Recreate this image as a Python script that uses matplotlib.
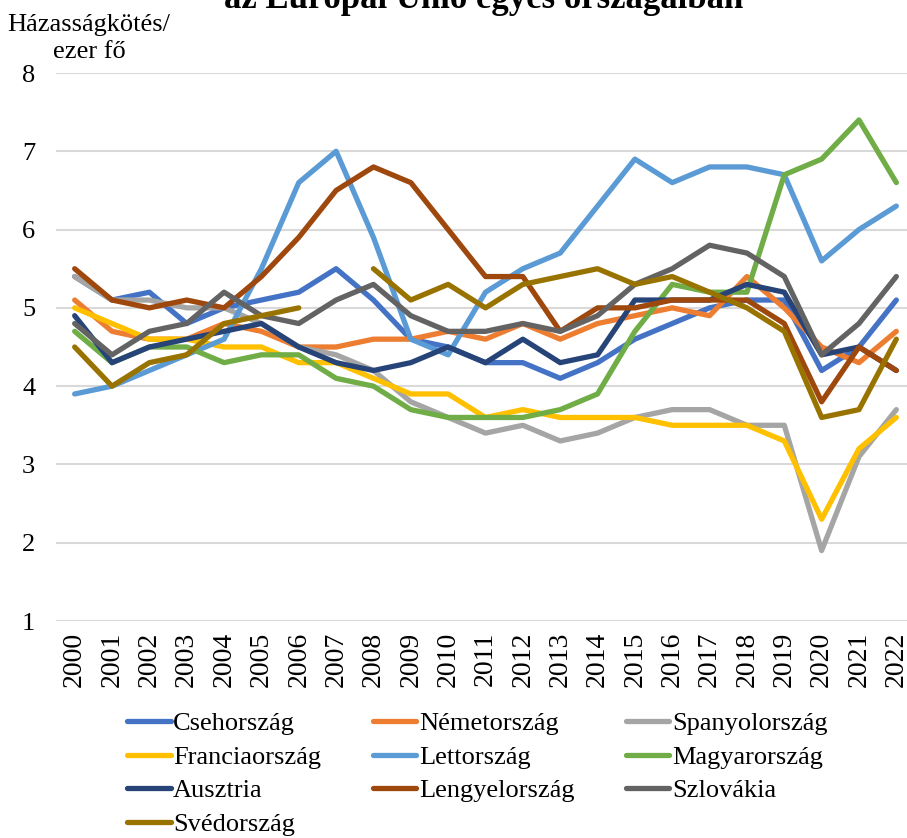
import numpy as np
import matplotlib
matplotlib.use('Agg')
import matplotlib.pyplot as plt

plt.rcParams['font.family'] = ['Liberation Serif', 'DejaVu Serif']

years = [str(y) for y in range(2000, 2023)]

cseh = [5.4, 5.1, 5.2, 4.8, 5.0, 5.1, 5.2, 5.5, 5.1, 4.6, 4.5, 4.3, 4.3, 4.1, 4.3, 4.6, 4.8, 5.0, 5.1, 5.1, 4.2, 4.5, 5.1]
nemet = [5.1, 4.7, 4.6, 4.6, 4.8, 4.7, 4.5, 4.5, 4.6, 4.6, 4.7, 4.6, 4.8, 4.6, 4.8, 4.9, 5.0, 4.9, 5.4, 5.0, 4.5, 4.3, 4.7]
spanyol = [5.4, 5.1, 5.1, 5.0, 5.0, 4.8, 4.5, 4.4, 4.2, 3.8, 3.6, 3.4, 3.5, 3.3, 3.4, 3.6, 3.7, 3.7, 3.5, 3.5, 1.9, 3.1, 3.7]
francia = [5.0, 4.8, 4.6, 4.6, 4.5, 4.5, 4.3, 4.3, 4.1, 3.9, 3.9, 3.6, 3.7, 3.6, 3.6, 3.6, 3.5, 3.5, 3.5, 3.3, 2.3, 3.2, 3.6]
lett = [3.9, 4.0, 4.2, 4.4, 4.6, 5.5, 6.6, 7.0, 5.9, 4.6, 4.4, 5.2, 5.5, 5.7, 6.3, 6.9, 6.6, 6.8, 6.8, 6.7, 5.6, 6.0, 6.3]
magyar = [4.7, 4.3, 4.5, 4.5, 4.3, 4.4, 4.4, 4.1, 4.0, 3.7, 3.6, 3.6, 3.6, 3.7, 3.9, 4.7, 5.3, 5.2, 5.2, 6.7, 6.9, 7.4, 6.6]
ausztria = [4.9, 4.3, 4.5, 4.6, 4.7, 4.8, 4.5, 4.3, 4.2, 4.3, 4.5, 4.3, 4.6, 4.3, 4.4, 5.1, 5.1, 5.1, 5.3, 5.2, 4.4, 4.5, 4.2]
lengyel = [5.5, 5.1, 5.0, 5.1, 5.0, 5.4, 5.9, 6.5, 6.8, 6.6, 6.0, 5.4, 5.4, 4.7, 5.0, 5.0, 5.1, 5.1, 5.1, 4.8, 3.8, 4.5, 4.2]
szlovak = [4.8, 4.4, 4.7, 4.8, 5.2, 4.9, 4.8, 5.1, 5.3, 4.9, 4.7, 4.7, 4.8, 4.7, 4.9, 5.3, 5.5, 5.8, 5.7, 5.4, 4.4, 4.8, 5.4]
sved = [4.5, 4.0, 4.3, 4.4, 4.8, 4.9, 5.0, np.nan, 5.5, 5.1, 5.3, 5.0, 5.3, 5.4, 5.5, 5.3, 5.4, 5.2, 5.0, 4.7, 3.6, 3.7, 4.6]

names = ['Csehország', 'Németország', 'Spanyolország', 'Franciaország', 'Lettország',
         'Magyarország', 'Ausztria', 'Lengyelország', 'Szlovákia', 'Svédország']
series = [cseh, nemet, spanyol, francia, lett, magyar, ausztria, lengyel, szlovak, sved]
colors = ['#4472C4', '#ED7D31', '#A5A5A5', '#FFC000', '#5B9BD5',
          '#70AD47', '#264478', '#9E480E', '#636363', '#997300']

fig = plt.figure(figsize=(9.07, 8.38), dpi=100)
ax = fig.add_axes([56 / 907, 1 - 621 / 838, (915 - 56) / 907, (621 - 73) / 838])

x = np.arange(len(years))
handles = []
for name, vals, c in zip(names, series, colors):
    h, = ax.plot(x, vals, color=c, lw=3.8, label=name, solid_capstyle='round',
                 solid_joinstyle='round')
    handles.append(h)

ax.set_xlim(-0.5, len(years) - 0.5)
ax.set_ylim(1, 8)
ax.set_yticks(range(1, 9))
ax.set_xticks(x)
ax.set_xticklabels(years, rotation=90, fontsize=20)
ax.tick_params(axis='y', labelsize=19, length=0, pad=15)
ax.tick_params(axis='x', length=0, pad=8)
ax.grid(axis='y', color='#D9D9D9', lw=1.5)
ax.set_axisbelow(True)
for s in ax.spines.values():
    s.set_visible(False)

fig.text(89 / 907, 1 - 14 / 838, 'Házasságkötés/\nezer fő', ha='center', va='top',
         fontsize=19, linespacing=1.3)
fig.text(484 / 907, 1 - 8 / 838, 'az Európai Unió egyes országaiban', ha='center',
         va='baseline', fontsize=25, fontweight='bold')

order = [0, 3, 6, 9, 1, 4, 7, 2, 5, 8]
fig.legend([handles[i] for i in order], [names[i] for i in order], ncol=3,
           loc='upper left', bbox_to_anchor=(127 / 907, 1 - 712 / 838),
           frameon=False, fontsize=19, handlelength=1.65, handletextpad=0.1,
           columnspacing=1.95, labelspacing=0.38, borderpad=0, borderaxespad=0)

fig.savefig('out.png', dpi=100)
